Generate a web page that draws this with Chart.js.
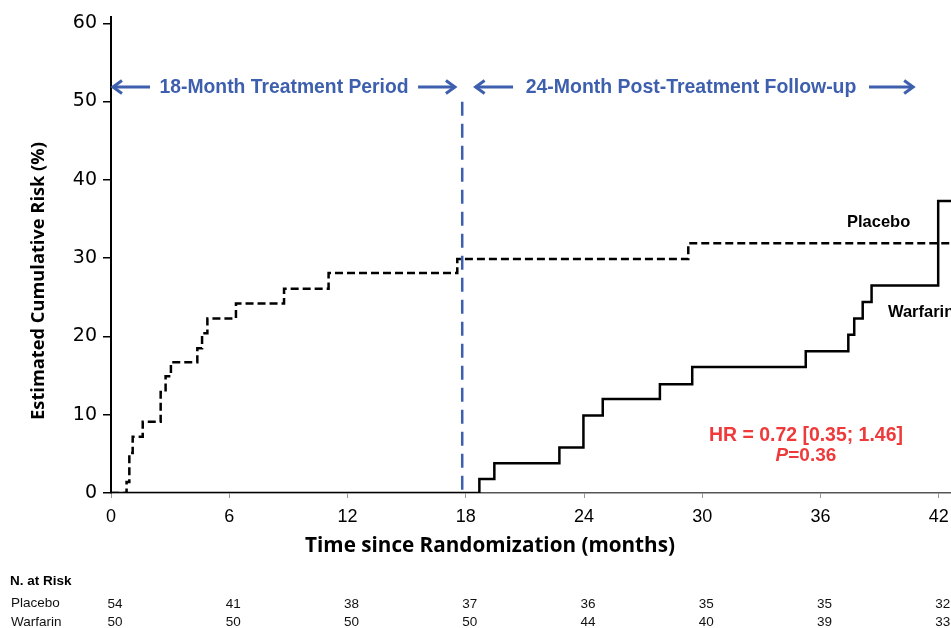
<!DOCTYPE html>
<html>
<head>
<meta charset="utf-8">
<script src="https://cdn.jsdelivr.net/npm/chart.js@4/dist/chart.umd.min.js"></script>
<style>
html,body{margin:0;padding:0;background:#fff;}
#wrap{width:951px;height:628px;position:relative;}
</style>
</head>
<body>
<div id="wrap"><canvas id="c" width="951" height="628"></canvas></div>
<script>
// ---- data ----
const xTicks = [0, 6, 12, 18, 24, 30, 36, 42];
const yTicks = [0, 10, 20, 30, 40, 50, 60];
const placeboTimes  = [0, 0.79, 0.93, 1.10, 1.61, 2.52, 2.77, 3.04, 4.38, 4.62, 4.89, 6.34, 8.78, 11.04, 17.57, 29.29, 42.62];
const placeboRisk   = [0, 1.4, 5.1, 7.2, 9.1, 12.9, 14.9, 16.7, 18.5, 20.4, 22.3, 24.2, 26.1, 28.1, 29.9, 31.9, 31.9];
const warfarinTimes = [0, 18.69, 19.45, 22.75, 23.97, 24.95, 27.85, 29.49, 35.25, 37.41, 37.71, 38.14, 38.59, 41.97, 42.62];
const warfarinRisk  = [0, 1.8, 3.8, 5.8, 9.9, 12.0, 13.9, 16.1, 18.1, 20.2, 22.3, 24.4, 26.5, 37.3, 37.3];
const periodSplit = 17.82;
const periodLineRange = [0.4, 50.2];
const riskGroups = ['Placebo', 'Warfarin'];
const riskPlacebo  = [54, 41, 38, 37, 36, 35, 35, 32];
const riskWarfarin = [50, 50, 50, 50, 44, 40, 39, 33];
const periodLabels = ['18-Month Treatment Period', '24-Month Post-Treatment Follow-up'];
const hrText = 'HR = 0.72 [0.35; 1.46]';
const pText = '=0.36';

const toPts = (xs, ys) => xs.map((x, i) => ({x: x, y: ys[i]}));

const BLUE = '#3d5fae';
const RED = '#ee3a3a';

function fitText(ctx, text, x, y, family, weight, targetW) {
  ctx.font = weight + ' 20px ' + family;
  const w = ctx.measureText(text).width;
  const size = 20 * targetW / w;
  ctx.font = weight + ' ' + size.toFixed(2) + 'px ' + family;
  ctx.fillText(text, x, y);
}

const annotate = {
  id: 'annotate',
  afterDatasetsDraw(chart) {
    const {ctx} = chart;
    const xs = chart.scales.x, ys = chart.scales.y;
    const X = v => xs.getPixelForValue(v), Y = v => ys.getPixelForValue(v);
    ctx.save();
    // period arrows
    const ay = Y(51.85);
    ctx.strokeStyle = BLUE; ctx.lineWidth = 3; ctx.lineCap = 'butt';
    function arrow(x0, x1) { // tip at x1
      ctx.beginPath(); ctx.moveTo(x0, ay); ctx.lineTo(x1, ay); ctx.stroke();
      const d = x1 > x0 ? -1 : 1;
      ctx.beginPath();
      ctx.moveTo(x1 + d * 9, ay - 6.5); ctx.lineTo(x1, ay); ctx.lineTo(x1 + d * 9, ay + 6.5);
      ctx.stroke();
    }
    arrow(X(1.98), X(0.1));
    arrow(X(15.58), X(17.45));
    arrow(X(20.4), X(18.5));
    arrow(X(38.46), X(40.7));
    ctx.fillStyle = BLUE;
    ctx.textAlign = 'center'; ctx.textBaseline = 'middle';
    fitText(ctx, periodLabels[0], X(8.78), ay + 1, '"Liberation Sans", Arial, sans-serif', 'bold', 249);
    fitText(ctx, periodLabels[1], X(29.43), ay + 1, '"Liberation Sans", Arial, sans-serif', 'bold', 331);

    // group labels
    ctx.fillStyle = '#000';
    ctx.font = 'bold 16.5px "Liberation Sans", Arial, sans-serif';
    ctx.textAlign = 'left';
    ctx.fillText('Placebo', X(37.34), Y(34.6));
    ctx.fillText('Warfarin', X(39.42), Y(23.0));

    // HR text
    ctx.fillStyle = RED;
    ctx.textAlign = 'center';
    fitText(ctx, hrText, X(35.26), Y(7.28), '"Liberation Sans", Arial, sans-serif', 'bold', 194);
    const py = Y(4.73);
    ctx.font = 'bold 19px "Liberation Sans", Arial, sans-serif';
    const wRest = ctx.measureText(pText).width;
    ctx.font = 'italic bold 19px "Liberation Sans", Arial, sans-serif';
    const wP = ctx.measureText('P').width;
    const startX = X(35.26) - (wRest + wP) / 2;
    ctx.textAlign = 'left';
    ctx.fillText('P', startX, py);
    ctx.font = 'bold 19px "Liberation Sans", Arial, sans-serif';
    ctx.fillText(pText, startX + wP, py);

    // axis titles
    ctx.fillStyle = '#000';
    ctx.textAlign = 'center';
    fitText(ctx, 'Time since Randomization (months)', 490, 546, '"Open Sans", Lato, sans-serif', 'bold', 370);
    ctx.save();
    ctx.translate(39, 281);
    ctx.rotate(-Math.PI / 2);
    fitText(ctx, 'Estimated Cumulative Risk (%)', 0, 0, '"Open Sans", Lato, sans-serif', 'bold', 278);
    ctx.restore();

    // numbers at risk
    ctx.fillStyle = '#000';
    ctx.font = 'bold 13.5px "Liberation Sans", Arial, sans-serif';
    ctx.textAlign = 'left';
    ctx.fillText('N. at Risk', 10, 581);
    ctx.font = '13.5px "Liberation Sans", Arial, sans-serif';
    ctx.fillStyle = '#111';
    ctx.fillText(riskGroups[0], 11, 603);
    ctx.fillText(riskGroups[1], 11, 622);
    ctx.textAlign = 'center';
    xTicks.forEach((t, i) => {
      const px = X(t) + 4;
      ctx.fillText(String(riskPlacebo[i]), px, 604);
      ctx.fillText(String(riskWarfarin[i]), px, 622);
    });
    ctx.restore();
  }
};

new Chart(document.getElementById('c'), {
  type: 'scatter',
  data: {
    datasets: [
      {
        label: 'Period split',
        data: [{x: periodSplit, y: periodLineRange[0]}, {x: periodSplit, y: periodLineRange[1]}],
        showLine: true, borderColor: BLUE, borderWidth: 2.5, borderDash: [14, 8],
        pointRadius: 0, fill: false
      },
      {
        label: 'Warfarin',
        data: toPts(warfarinTimes, warfarinRisk),
        showLine: true, stepped: 'before', borderColor: '#000', borderWidth: 2.5,
        pointRadius: 0, fill: false
      },
      {
        label: 'Placebo',
        data: toPts(placeboTimes, placeboRisk),
        showLine: true, stepped: 'before', borderColor: '#000', borderWidth: 2.5,
        borderDash: [8, 4], pointRadius: 0, fill: false
      }
    ]
  },
  options: {
    responsive: false,
    animation: false,
    devicePixelRatio: 1,
    layout: {padding: {top: 17, right: 0, left: 0, bottom: 0}},
    plugins: {legend: {display: false}, tooltip: {enabled: false}},
    scales: {
      x: {
        type: 'linear', min: 0, max: 42.62,
        afterFit(s) { s.height = 135; s.paddingRight = 0; s.paddingLeft = 0; },
        afterBuildTicks(s) { s.ticks = xTicks.map(v => ({value: v})); },
        grid: {drawOnChartArea: false, drawTicks: true, tickLength: 5, color: '#999', lineWidth: 1},
        border: {display: true, color: '#555', width: 1.5},
        ticks: {color: '#000', padding: 8, font: {family: '"Liberation Sans", Arial, sans-serif', size: 18}, maxRotation: 0, autoSkip: false}
      },
      y: {
        type: 'linear', min: 0, max: 60.8,
        afterFit(s) { s.width = 111; s.paddingTop = 0; s.paddingBottom = 0; },
        afterBuildTicks(s) { s.ticks = yTicks.map(v => ({value: v})); },
        grid: {drawOnChartArea: false, drawTicks: true, tickLength: 8, color: '#000', lineWidth: 1.5},
        border: {display: true, color: '#000', width: 2},
        ticks: {color: '#000', padding: 6, font: {family: '"DejaVu Sans", Verdana, sans-serif', size: 19}}
      }
    }
  },
  plugins: [annotate]
});
</script>
</body>
</html>
